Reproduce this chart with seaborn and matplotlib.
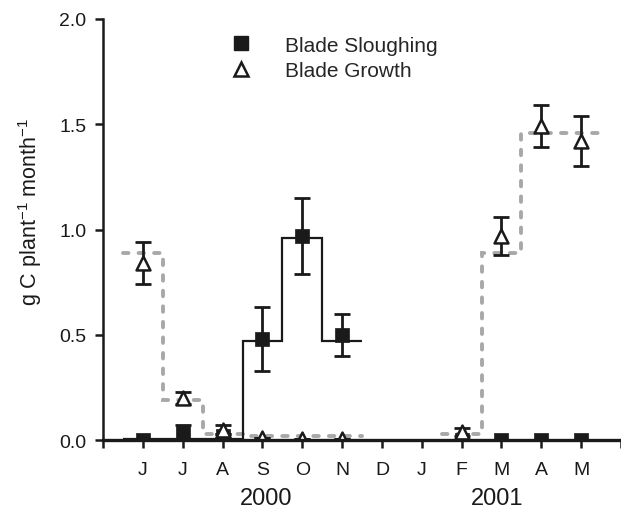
import numpy as np
import matplotlib
matplotlib.use("Agg")
import matplotlib.pyplot as plt
from matplotlib.lines import Line2D
import seaborn as sns

# ---- data ----
months = ["J", "J", "A", "S", "O", "N", "D", "J", "F", "M", "A", "M"]

slough_idx = [0, 1, 2, 3, 4, 5, 8, 9, 10, 11]
slough_val = [0.00, 0.035, 0.02, 0.48, 0.97, 0.50, 0.00, 0.00, 0.00, 0.00]
slough_err = [0.00, 0.035, 0.01, 0.15, 0.18, 0.10, 0.00, 0.00, 0.00, 0.00]

growth_idx = [0, 1, 2, 3, 4, 5, 8, 9, 10, 11]
growth_val = [0.84, 0.20, 0.05, 0.01, 0.005, 0.005, 0.04, 0.97, 1.49, 1.42]
growth_err = [0.10, 0.03, 0.02, 0.00, 0.00, 0.00, 0.02, 0.09, 0.10, 0.12]

# modelled (step) series
slough_model_idx = [0, 1, 2, 3, 4, 5]
slough_model_val = [0.005, 0.005, 0.005, 0.47, 0.96, 0.47]
growth_model1_idx = [0, 1, 2, 3, 4, 5]
growth_model1_val = [0.89, 0.19, 0.03, 0.02, 0.02, 0.02]
growth_model2_idx = [8, 9, 10, 11]
growth_model2_val = [0.03, 0.89, 1.46, 1.46]

years = ["2000", "2001"]
year_pos = [3.08, 8.88]

# ---- style ----
sns.set_style("ticks")
plt.rcParams["font.family"] = ["Liberation Sans", "DejaVu Sans"]
plt.rcParams["mathtext.fontset"] = "custom"
plt.rcParams["mathtext.rm"] = "Liberation Sans"
plt.rcParams["mathtext.it"] = "Liberation Sans:italic"
plt.rcParams["mathtext.bf"] = "Liberation Sans:bold"

ink = "#1a1a1a"
fig = plt.figure(figsize=(6.21, 5.10), dpi=100)
ax = fig.add_axes([0.166, 0.135, 0.834, 0.826])

def edges(idx):
    idx = np.asarray(idx, dtype=float)
    return np.append(idx - 0.5, idx[-1] + 0.5)

gray = "#a8a8a8"
for idx, val in [(growth_model1_idx, growth_model1_val),
                 (growth_model2_idx, growth_model2_val)]:
    st = ax.stairs(val, edges(idx), color=gray, linewidth=2.8,
                   linestyle=(0, (1.4, 2.6)), zorder=2, baseline=None)
    st.set_capstyle("round")

ax.stairs(slough_model_val, edges(slough_model_idx), color=ink,
          linewidth=1.6, zorder=3, baseline=None)

# error bars
ax.errorbar(slough_idx, slough_val, yerr=slough_err, fmt="none",
            ecolor=ink, elinewidth=2, capsize=5.8, capthick=2, zorder=4)
ax.errorbar(growth_idx, growth_val, yerr=growth_err, fmt="none",
            ecolor=ink, elinewidth=2, capsize=5.8, capthick=2, zorder=4)

sns.scatterplot(x=slough_idx, y=slough_val, marker="s", s=90,
                color=ink, edgecolor=ink, linewidth=0.5,
                ax=ax, zorder=5, legend=False)
sns.scatterplot(x=growth_idx, y=growth_val, marker="^", s=100,
                color="white", edgecolor=ink, linewidth=1.8,
                ax=ax, zorder=6, legend=False)

# axes
ax.set_xlim(-1, 12)
ax.set_ylim(0, 2.0)
ax.set_xticks(range(-1, 13))
ax.set_xticklabels([""] + months + [""])
ax.set_yticks([0.0, 0.5, 1.0, 1.5, 2.0])
ax.set_yticklabels(["0.0", "0.5", "1.0", "1.5", "2.0"])
ax.tick_params(axis="both", labelsize=14, colors=ink, length=6,
               width=1.8, direction="out", pad=6)
ax.tick_params(axis="x", pad=9)
for s in ["top", "right"]:
    ax.spines[s].set_visible(False)
ax.spines["left"].set_linewidth(1.8)
ax.spines["bottom"].set_linewidth(2.4)
ax.spines["left"].set_color(ink)
ax.spines["bottom"].set_color(ink)
ax.spines["bottom"].set_zorder(7)

ax.set_ylabel(r"g C plant$^{-1}$ month$^{-1}$", fontsize=15.5, color=ink)
ax.yaxis.set_label_coords(-0.115, 0.544)

trans = matplotlib.transforms.blended_transform_factory(ax.transData, ax.transAxes)
for xp, yr in zip(year_pos, years):
    ax.text(xp, -0.138, yr, transform=trans, ha="center", va="center",
            fontsize=17, color=ink)

handles = [
    Line2D([], [], marker="s", linestyle="none", markersize=9.5,
           markerfacecolor=ink, markeredgecolor=ink),
    Line2D([], [], marker="^", linestyle="none", markersize=9.5,
           markerfacecolor="white", markeredgecolor=ink,
           markeredgewidth=1.8),
]
ax.legend(handles, ["Blade Sloughing", "Blade Growth"], loc="upper left",
          bbox_to_anchor=(0.21, 0.98), frameon=False, fontsize=15,
          handletextpad=1.1, labelspacing=0.3, borderaxespad=0)

fig.savefig("out.png", dpi=100)
